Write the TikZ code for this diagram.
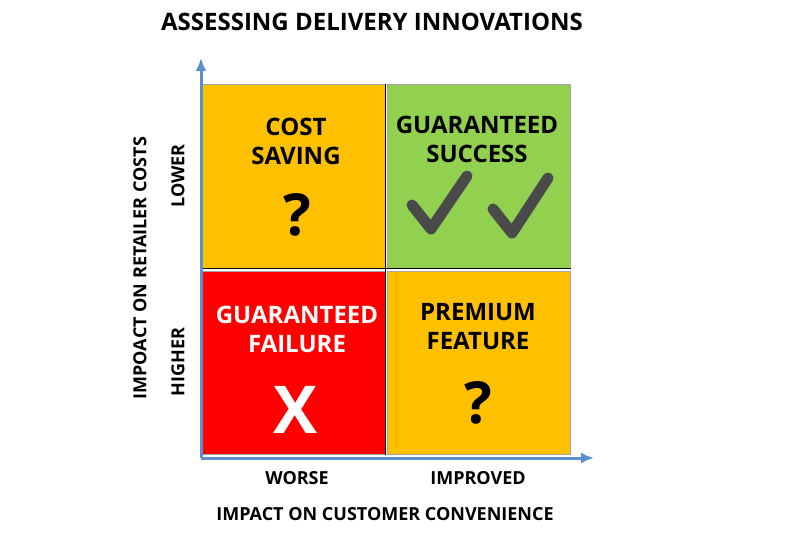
\documentclass[tikz,border=0pt]{standalone}
\usepackage{fontspec}
\setmainfont{Open Sans}
\usetikzlibrary{arrows.meta}
\definecolor{qorange}{HTML}{FFC000}
\definecolor{qgreen}{HTML}{92D050}
\definecolor{qred}{HTML}{FF0000}
\definecolor{axisblue}{HTML}{5B8FD0}
\definecolor{checkgray}{HTML}{4A4A4A}
\begin{document}
\begin{tikzpicture}[x=1pt,y=-1pt,
  quad/.style={draw=gray!70,line width=1pt,minimum width=183pt,minimum height=183pt,inner sep=0pt},
  qtext/.style={font=\bfseries\fontsize{24}{29}\selectfont,align=center},
  lab/.style={font=\bfseries\fontsize{18}{20}\selectfont},
  axis/.style={draw=axisblue,line width=3pt,-{Latex[length=13pt,width=11pt]}},
  chk/.style={draw=checkgray,line width=11pt,line cap=round,line join=round}]
\useasboundingbox (0,0) rectangle (800,548);
\node[quad,fill=qorange] (tl) at (293.5,176.5) {};
\node[quad,fill=qgreen] (tr) at (478.5,176.5) {};
\node[quad,fill=qred] (bl) at (293.5,362.5) {};
\node[quad,fill=qorange] (br) at (478.5,362.5) {};
\draw[black,line width=1pt] (tl.north east) -- (bl.south east);
\draw[black,line width=1pt] (tl.south west) -- (tr.south east);
\node[qtext] (t1) at (296,141) {COST\\SAVING};
\node[font=\bfseries\fontsize{58}{62}\selectfont] (q1) at (297,215) {?};
\node[qtext] (t2) at (477,139) {GUARANTEED\\SUCCESS};
\node[qtext,text=white] (t3) at (297,329) {GUARANTEED\\FAILURE};
\node[font=\bfseries\fontsize{66}{70}\selectfont,text=white] (x3) at (296,410) {X};
\node[qtext] (t4) at (478,327) {PREMIUM\\FEATURE};
\node[font=\bfseries\fontsize{58}{62}\selectfont] (q4) at (478,403) {?};
\coordinate (c1a) at (412,205); \coordinate (c1b) at (431,229); \coordinate (c1c) at (467,176);
\coordinate (c2a) at (493,209); \coordinate (c2b) at (512,233); \coordinate (c2c) at (548,178);
\draw[chk] (c1a) -- (c1b) -- (c1c);
\draw[chk] (c2a) -- (c2b) -- (c2c);
\coordinate (o) at (201,458);
\coordinate (ytop) at (201,58);
\coordinate (xend) at (594,458);
\draw[axis] (o) -- (ytop);
\draw[axis] (o) -- (xend);
\node[font=\bfseries\fontsize{24}{28}\selectfont] (title) at (372,22) {ASSESSING DELIVERY INNOVATIONS};
\node[lab,rotate=90] (ylab) at (140,268) {IMPOACT ON RETAILER COSTS};
\node[lab,rotate=90] (lower) at (178,176) {LOWER};
\node[lab,rotate=90] (higher) at (178,362) {HIGHER};
\node[lab] (worse) at (297,478) {WORSE};
\node[lab] (impr) at (478,478) {IMPROVED};
\node[lab] (xlab) at (385,514) {IMPACT ON CUSTOMER CONVENIENCE};
\end{tikzpicture}
\end{document}
